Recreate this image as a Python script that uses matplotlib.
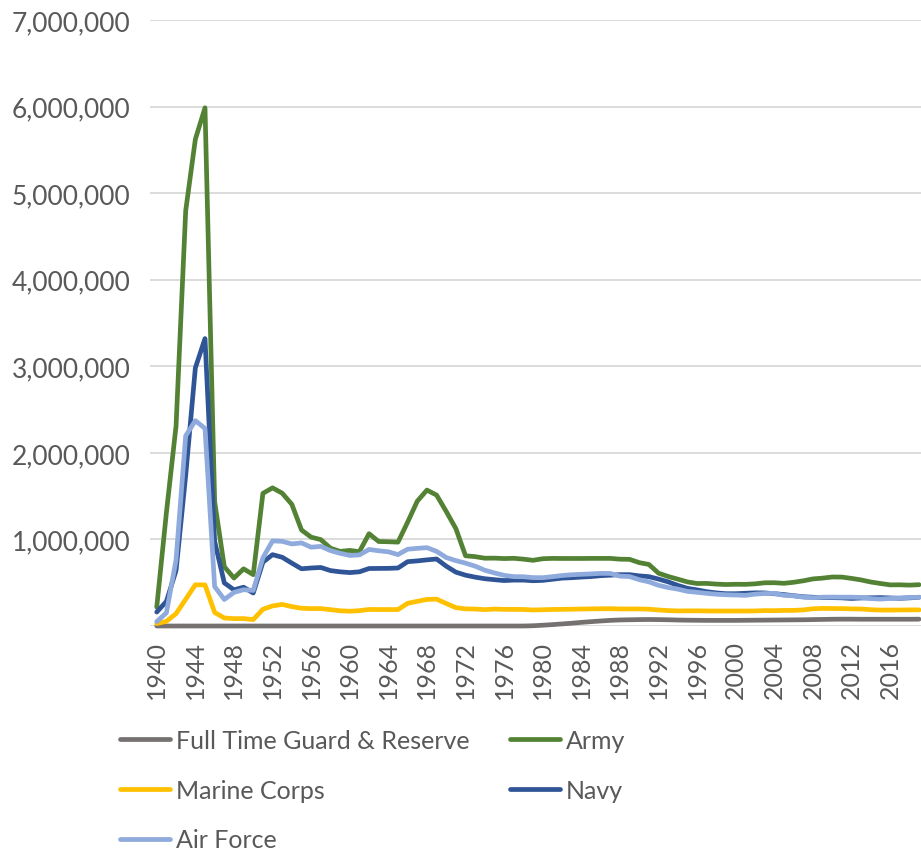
import matplotlib.pyplot as plt
from matplotlib.ticker import FuncFormatter

years = list(range(1940, 2020))

guard = [0] * 38 + [
    0, 3000, 9000, 16000, 24000, 32000, 42000, 50000, 58000, 65000,
    70000, 72000, 74000, 75000, 74000, 72000, 69000, 67000, 66000, 65000,
    65000, 65000, 65000, 66000, 67000, 68000, 69000, 70000, 71000, 72000,
    74000, 76000, 78000, 79000, 79000, 78000, 78000, 78000, 78000, 78000,
    78000, 79000]

army = [
    218000, 1310000, 2311000, 4797000, 5622000, 5986000, 1436000, 685000, 554000, 660000,
    593000, 1532000, 1596000, 1534000, 1405000, 1109000, 1026000, 998000, 899000, 862000,
    873000, 859000, 1066000, 976000, 973000, 969000, 1200000, 1442000, 1570000, 1512000,
    1323000, 1124000, 811000, 801000, 783000, 784000, 779000, 782000, 772000, 759000,
    777000, 781000, 780000, 780000, 780000, 781000, 781000, 781000, 772000, 770000,
    732000, 711000, 610000, 572000, 541000, 509000, 491000, 492000, 484000, 479000,
    482000, 481000, 487000, 499000, 500000, 493000, 505000, 522000, 544000, 553000,
    566000, 565000, 550000, 532000, 508000, 491000, 475000, 476000, 472000, 477000]

marines = [
    28000, 54000, 143000, 309000, 476000, 475000, 156000, 93000, 85000, 86000,
    74000, 193000, 232000, 249000, 224000, 205000, 201000, 201000, 189000, 176000,
    171000, 177000, 191000, 190000, 190000, 190000, 262000, 285000, 307000, 310000,
    260000, 212000, 198000, 196000, 189000, 196000, 192000, 192000, 191000, 185000,
    188000, 191000, 192000, 194000, 196000, 198000, 199000, 200000, 197000, 197000,
    197000, 194000, 185000, 178000, 174000, 175000, 175000, 174000, 173000, 173000,
    173000, 173000, 174000, 178000, 177000, 180000, 180000, 186000, 199000, 203000,
    202000, 201000, 198000, 196000, 188000, 184000, 184000, 185000, 186000, 186000]

navy = [
    161000, 284000, 641000, 1742000, 2981000, 3320000, 978000, 498000, 418000, 448000,
    381000, 737000, 824000, 794000, 726000, 661000, 670000, 676000, 640000, 626000,
    617000, 626000, 664000, 665000, 666000, 670000, 743000, 752000, 764000, 774000,
    691000, 622000, 587000, 564000, 546000, 535000, 525000, 530000, 530000, 523000,
    527000, 540000, 553000, 558000, 565000, 571000, 581000, 587000, 593000, 593000,
    579000, 570000, 542000, 510000, 469000, 435000, 417000, 396000, 382000, 373000,
    373000, 378000, 383000, 382000, 373000, 363000, 350000, 338000, 332000, 329000,
    328000, 325000, 318000, 324000, 326000, 328000, 324000, 320000, 325000, 332000]

air_force = [
    51000, 152000, 764000, 2197000, 2372000, 2282000, 456000, 306000, 388000, 419000,
    411000, 788000, 983000, 978000, 948000, 960000, 910000, 920000, 871000, 840000,
    815000, 821000, 884000, 869000, 857000, 825000, 887000, 897000, 905000, 862000,
    791000, 755000, 726000, 691000, 644000, 613000, 585000, 570000, 569000, 559000,
    558000, 570000, 583000, 592000, 597000, 602000, 608000, 607000, 576000, 571000,
    535000, 510000, 470000, 444000, 426000, 400000, 389000, 377000, 367000, 361000,
    358000, 354000, 368000, 375000, 377000, 354000, 349000, 333000, 327000, 333000,
    334000, 333000, 333000, 330000, 316000, 311000, 318000, 323000, 329000, 332000]

series = [
    ("Full Time Guard & Reserve", guard, "#767171"),
    ("Army", army, "#548235"),
    ("Marine Corps", marines, "#FFC000"),
    ("Navy", navy, "#2F5597"),
    ("Air Force", air_force, "#8FAADC"),
]

plt.rcParams['font.family'] = ['Lato', 'DejaVu Sans']
txt = "#595959"

fig = plt.figure(figsize=(9.21, 8.54), dpi=100)
ax = fig.add_axes([150/921, 1 - 627/854, 1 - 150/921, (627 - 21)/854])

lines = {}
for name, vals, col in series:
    ln, = ax.plot(years, vals, color=col, lw=3.4, label=name,
                  solid_joinstyle='round', solid_capstyle='round', clip_on=False)
    lines[name] = ln

ax.set_ylim(0, 7000000)
ax.set_yticks(range(0, 7000001, 1000000))
ax.yaxis.set_major_formatter(FuncFormatter(lambda v, p: "" if v == 0 else f"{int(v):,}"))
ax.set_xlim(1939.3, 2019.2)
ax.set_xticks(range(1940, 2019, 4))
ax.tick_params(axis='x', labelrotation=90, labelsize=18, colors=txt, length=0, pad=10)
ax.tick_params(axis='y', labelsize=19, colors=txt, length=0, pad=14)
ax.grid(axis='y', color="#D9D9D9", lw=1.3)
ax.set_axisbelow(True)
for s in ax.spines.values():
    s.set_visible(False)

# legend: column-first order so rows read Guard/Army, Marine/Navy, Air Force
order = ["Full Time Guard & Reserve", "Marine Corps", "Air Force", "Army", "Navy"]
fig.legend([lines[n] for n in order], order, ncol=2, frameon=False,
           loc='upper left', bbox_to_anchor=(120/921, 1 - 730/854),
           fontsize=18, labelcolor=txt, handlelength=2.0, handletextpad=0.25,
           columnspacing=1.6, labelspacing=1.07, borderpad=0, borderaxespad=0)

fig.savefig("out.png", dpi=100)
